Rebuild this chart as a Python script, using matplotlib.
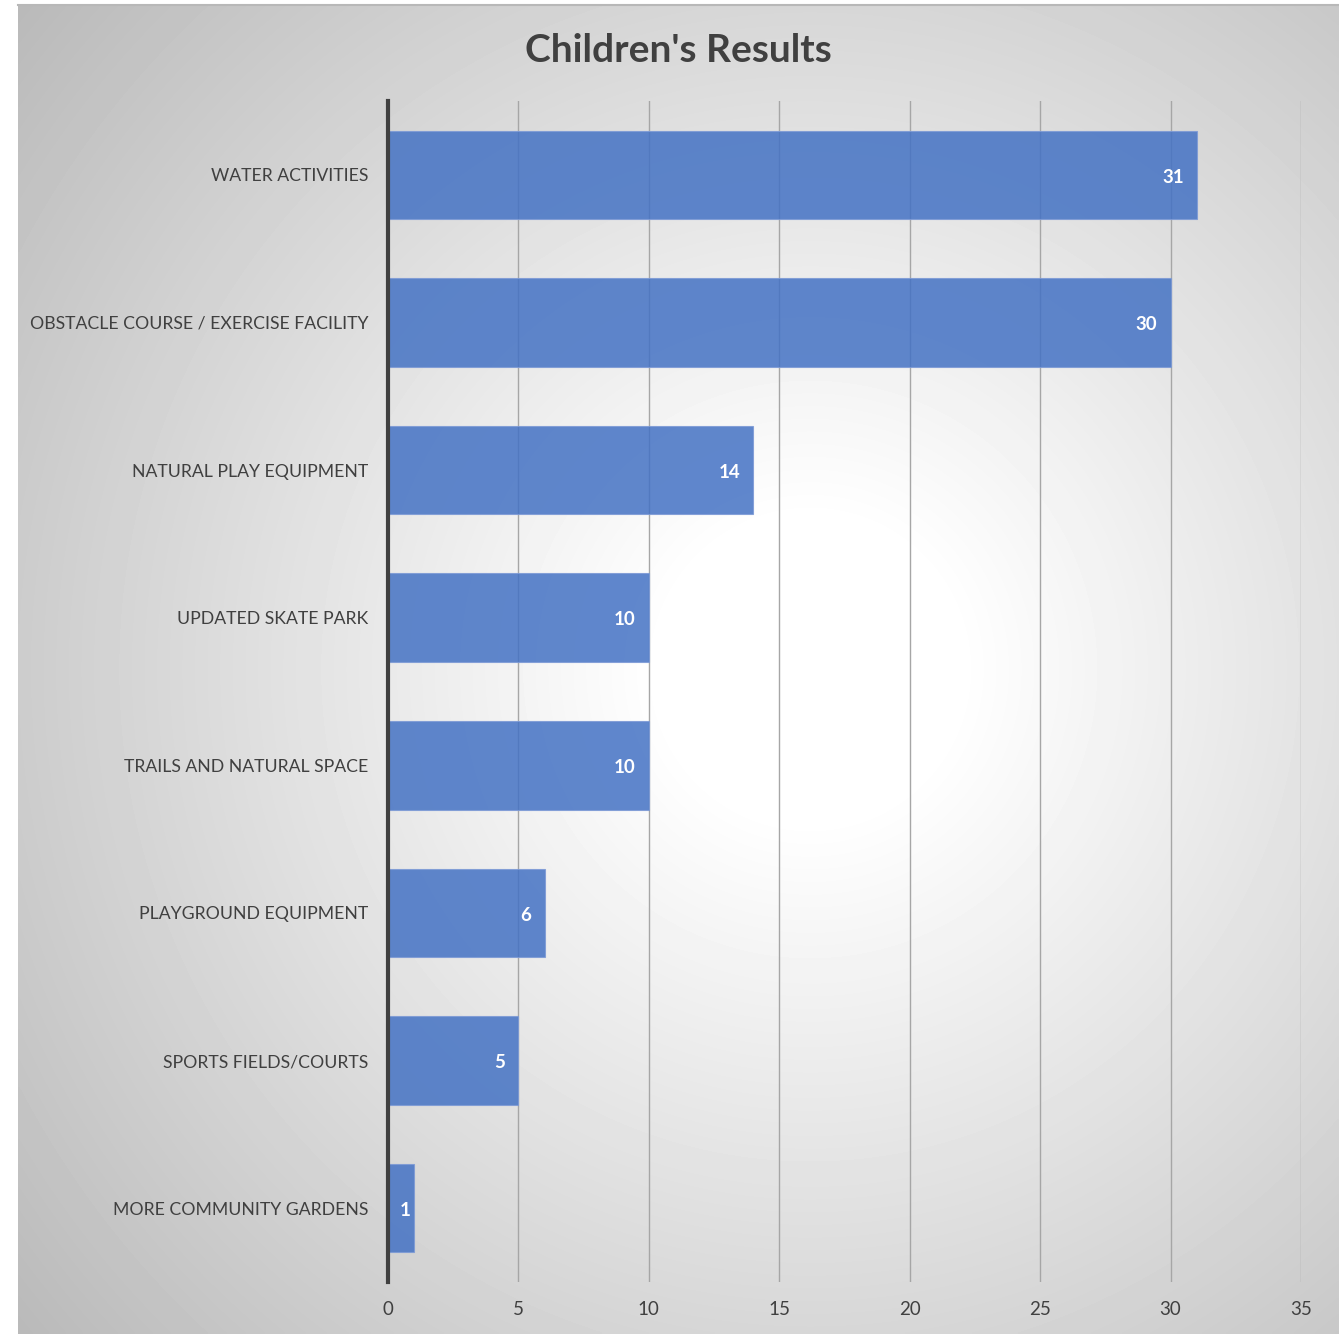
import matplotlib.pyplot as plt
import numpy as np

categories = [
    "WATER ACTIVITIES",
    "OBSTACLE COURSE / EXERCISE FACILITY",
    "NATURAL PLAY EQUIPMENT",
    "UPDATED SKATE PARK",
    "TRAILS AND NATURAL SPACE",
    "PLAYGROUND EQUIPMENT",
    "SPORTS FIELDS/COURTS",
    "MORE COMMUNITY GARDENS",
]
values = [31, 30, 14, 10, 10, 6, 5, 1]
x_ticks = [0, 5, 10, 15, 20, 25, 30, 35]

W, H = 1339, 1334
fig = plt.figure(figsize=(W / 100, H / 100), dpi=100)
fig.patch.set_facecolor("white")

# radial gradient background of the chart area
bg = fig.add_axes([18 / W, 0, 1 - 18 / W, 1 - 5 / H], zorder=0)
gx, gy = np.meshgrid(np.linspace(0, 1, 400), np.linspace(0, 1, 400))
r = np.sqrt(((gx - 0.6) / 0.75) ** 2 + ((gy - 0.5) / 0.75) ** 2)
shade = 1.0 - 0.26 * np.clip(r - 0.15, 0, 1) / 0.85
bg.imshow(shade, cmap="gray", vmin=0, vmax=1, extent=[0, 1, 0, 1],
          aspect="auto", interpolation="bilinear")
bg.set_axis_off()
fig.add_artist(plt.Line2D([18 / W, 1], [1 - 5 / H, 1 - 5 / H],
                          color="#b8b8b8", lw=1.5))

ax = fig.add_axes([388 / W, (H - 1282) / H, (1301 - 388) / W, (1282 - 101) / H],
                  zorder=1)
ax.patch.set_alpha(0)

font = "Lato"
ypos = np.arange(len(categories))
ax.barh(ypos, values, height=0.6, color="#4472C4", alpha=0.85,
        edgecolor="#7d9ad6", linewidth=0.8, zorder=2)
for y, v in zip(ypos, values):
    # short bars: label pushed to the bar end like Excel does
    xl = v - 0.5 if v >= 2 else v - 0.12
    ax.text(xl, y + 0.015, str(v), ha="right", va="center", color="white",
            fontsize=13.5, fontweight="bold", family=font, zorder=3)

ax.set_xlim(0, 35)
ax.set_ylim(len(categories) - 0.5, -0.5)
ax.set_xticks(x_ticks)
ax.set_xticklabels([str(t) for t in x_ticks], family=font, fontsize=13.5,
                   color="#404040")
ax.set_yticks(ypos)
ax.set_yticklabels(categories, family=font, fontsize=12.7, color="#404040")
ax.tick_params(length=0, pad=14)
ax.tick_params(axis="y", pad=14)
ax.grid(axis="x", color="#a6a6a6", linewidth=1, zorder=1)
ax.set_axisbelow(True)
for s in ["top", "right", "bottom"]:
    ax.spines[s].set_visible(False)
ax.spines["left"].set_color("#404040")
ax.spines["left"].set_linewidth(3)
ax.spines["left"].set_zorder(4)

fig.text(0.507, 1 - 50 / H, "Children's Results", ha="center", va="center",
         fontsize=28, fontweight="bold", color="#404040", family=font)

fig.savefig("out.png", dpi=100)
